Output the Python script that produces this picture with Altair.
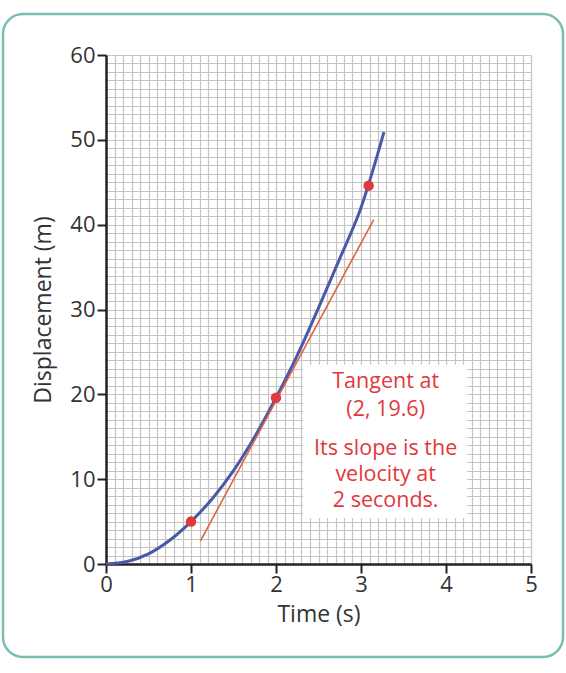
import altair as alt
import pandas as pd

# ---- data ----
curve_t = [0.0, 0.25, 0.5, 0.75, 1.0, 1.25, 1.5, 1.75, 2.0, 2.25, 2.5, 2.75, 3.0, 3.27]
curve_s = [0.0, 0.3, 1.2, 2.8, 5.0, 7.7, 11.0, 15.0, 19.6, 24.6, 30.2, 36.0, 42.0, 50.9]

point_t = [1.0, 2.0, 3.09]
point_s = [5.0, 19.6, 44.6]

tangent_t = [1.11, 3.15]
tangent_s = [2.7, 40.6]

note_lines = ["Tangent at", "(2, 19.6)", "Its slope is the", "velocity at", "2 seconds."]
note_s = [21.5, 18.2, 13.6, 10.5, 7.4]
note_t = [3.29] * 5

box_t = [2.32]
box_t2 = [4.25]
box_s = [5.4]
box_s2 = [23.5]

x_grid = [round(i * 0.1, 1) for i in range(51)]
y_grid = list(range(61))

FONT = "Open Sans"
GRID = "#c4c4c4"
RED = "#e0393c"

curve_df = pd.DataFrame({"t": curve_t, "s": curve_s})
pts_df = pd.DataFrame({"t": point_t, "s": point_s})
tan_df = pd.DataFrame({"t": tangent_t, "s": tangent_s})
note_df = pd.DataFrame({"t": note_t, "s": note_s, "txt": note_lines})
box_df = pd.DataFrame({"t": box_t, "t2": box_t2, "s": box_s, "s2": box_s2})

is_int_x = "abs(datum.value - round(datum.value)) < 0.001"
is_ten_y = "abs(datum.value / 10 - round(datum.value / 10)) < 0.001"

x_enc = alt.X(
    "t:Q",
    scale=alt.Scale(domain=[0, 5], nice=False, zero=False),
    axis=alt.Axis(
        title="Time (s)",
        values=x_grid,
        tickCount=500,
        grid=True,
        gridColor=GRID,
        gridWidth=1.2,
        labelExpr=f"{is_int_x} ? format(datum.value, 'd') : ''",
        labelOverlap=False,
        labelFlush=False,
        labelFont=FONT,
        labelFontSize=22,
        labelColor="#333333",
        labelPadding=1,
        tickColor="#222222",
        tickWidth=2,
        tickSize=9,
        tickOpacity={"condition": {"test": is_int_x, "value": 1}, "value": 0},
        domainColor="#222222",
        domainWidth=2.5,
        titleFont=FONT,
        titleFontSize=23,
        titleFontWeight="normal",
        titleColor="#333333",
        titlePadding=8,
    ),
)

y_enc = alt.Y(
    "s:Q",
    scale=alt.Scale(domain=[0, 60], nice=False),
    axis=alt.Axis(
        title="Displacement (m)",
        values=y_grid,
        tickCount=500,
        grid=True,
        gridColor=GRID,
        gridWidth=1.2,
        labelExpr=f"{is_ten_y} ? format(datum.value, 'd') : ''",
        labelOverlap=False,
        labelFlush=False,
        labelFont=FONT,
        labelFontSize=22,
        labelColor="#333333",
        labelPadding=2,
        tickColor="#222222",
        tickWidth=2,
        tickSize=9,
        tickOpacity={"condition": {"test": is_ten_y, "value": 1}, "value": 0},
        domainColor="#222222",
        domainWidth=2.5,
        titleFont=FONT,
        titleFontSize=23,
        titleFontWeight="normal",
        titleColor="#333333",
        titlePadding=14,
    ),
)

base_curve = alt.Chart(curve_df).mark_line(
    color="#4a59a7", strokeWidth=3, interpolate="monotone"
).encode(x=x_enc, y=y_enc)

tangent = alt.Chart(tan_df).mark_line(color="#e2623f", strokeWidth=1.6).encode(
    x="t:Q", y="s:Q"
)

points = alt.Chart(pts_df).mark_point(
    filled=True, color=RED, size=110, opacity=1
).encode(x="t:Q", y="s:Q")

box = alt.Chart(box_df).mark_rect(color="white").encode(
    x="t:Q", x2="t2:Q", y="s:Q", y2="s2:Q"
)

notes = alt.Chart(note_df).mark_text(
    font=FONT, fontSize=21.5, color=RED, align="center", baseline="middle"
).encode(x="t:Q", y="s:Q", text="txt:N")

frame = alt.Chart(box_df).mark_rect(
    fill=None, stroke="#79bdb3", strokeWidth=2.5, cornerRadius=20
).encode(
    x=alt.value(-103), x2=alt.value(457), y=alt.value(-41), y2=alt.value(602)
)

chart = alt.layer(base_curve, box, tangent, points, notes, frame).properties(
    width=425,
    height=509,
    padding={"left": 106, "top": 55, "right": 35, "bottom": 109},
    autosize="none",
    background="white",
).configure_view(stroke=None)

chart.save("out.html", embed_options={"renderer": "svg", "actions": False})
